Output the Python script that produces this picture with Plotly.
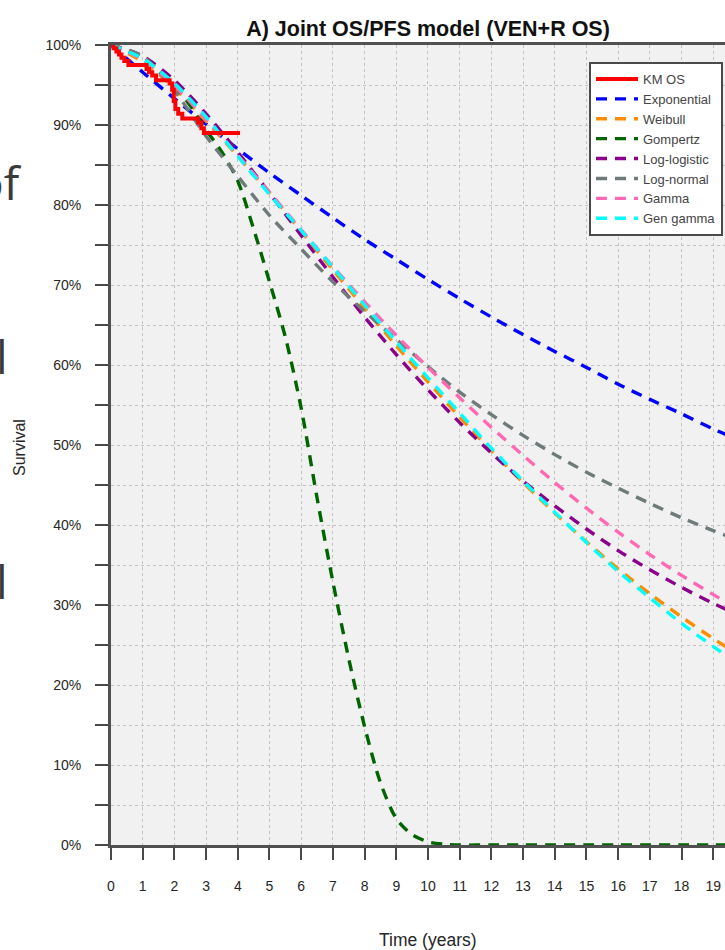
import plotly.graph_objects as go

# ---------------- data ----------------
years = list(range(0, 21))
x_tick_labels = [str(i) for i in range(0, 21)]
y_tick_vals = list(range(0, 101, 5))
y_tick_labels = [f"{v}%" if v % 10 == 0 else "" for v in y_tick_vals]

km_time = [0, 0.08, 0.17, 0.25, 0.33, 0.42, 0.55, 1.12, 1.2, 1.3, 1.42, 1.85,
           1.93, 1.98, 2.03, 2.12, 2.25, 2.75, 2.85, 2.93, 4.07]
km_surv = [100, 99.6, 99.2, 98.8, 98.4, 98.0, 97.5, 97.0, 96.6, 96.2, 95.6, 95.2,
           94.4, 93.0, 92.0, 91.4, 90.8, 90.3, 89.6, 89.0, 89.0]

exponential = [100, 96.6, 93.3, 90.1, 87.0, 84.0, 81.2, 78.4, 75.7, 73.2, 70.7,
               68.3, 66.0, 63.8, 61.7, 59.7, 57.6, 55.7, 53.9, 52.0, 50.3]
weibull = [100, 97.9, 94.6, 90.5, 86.1, 81.5, 76.7, 71.9, 67.1, 62.4, 57.9,
           53.5, 49.3, 45.3, 41.5, 37.9, 34.5, 31.4, 28.5, 25.8, 23.3]
gompertz_time = [0, 0.5, 1, 1.5, 2, 2.5, 3, 3.5, 4, 4.5, 5, 5.5, 6, 6.5, 7, 7.5,
                 8, 8.5, 9, 9.5, 10, 10.5, 11, 12, 13, 14, 15, 16, 17, 18, 19, 20]
gompertz = [100, 99.3, 98.3, 96.9, 95.0, 92.4, 89.4, 86.6, 83.0, 77.0, 70.4, 63.5,
            54.6, 43.4, 32.9, 23.3, 14.8, 7.8, 3.3, 1.3, 0.4, 0.1, 0.0, 0.0, 0.0,
            0.0, 0.0, 0.0, 0.0, 0.0, 0.0, 0.0]
loglogistic = [100, 98.6, 95.6, 91.4, 86.6, 81.5, 76.2, 71.0, 66.0, 61.3, 56.9,
               52.8, 49.0, 45.5, 42.4, 39.5, 36.8, 34.4, 32.2, 30.2, 28.4]
lognormal = [100, 98.6, 94.3, 88.6, 83.6, 78.7, 74.5, 70.4, 66.7, 63.2, 59.8,
             56.6, 53.8, 51.2, 48.8, 46.6, 44.6, 42.7, 40.9, 39.3, 37.8]
gamma = [100, 98.2, 94.9, 90.7, 86.2, 81.6, 76.9, 72.3, 67.9, 63.7, 59.7,
         55.9, 52.2, 48.7, 45.3, 42.1, 39.1, 36.3, 33.7, 31.3, 29.0]
gen_gamma = [100, 98.3, 95.2, 91.0, 86.1, 81.3, 76.8, 72.2, 67.5, 62.9, 58.4,
             54.0, 49.6, 45.5, 41.6, 37.8, 34.2, 30.9, 27.7, 24.8, 22.1]

models = [
    ("Exponential", years, exponential, "#0000ff"),
    ("Weibull", years, weibull, "#ff8c00"),
    ("Gompertz", gompertz_time, gompertz, "#006400"),
    ("Log-logistic", years, loglogistic, "#8b008b"),
    ("Log-normal", years, lognormal, "#6f7b7b"),
    ("Gamma", years, gamma, "#ff69b4"),
    ("Gen gamma", years, gen_gamma, "#00ffff"),
]

# ---------------- layout constants ----------------
W, H = 725, 950
ML, MR, MT, MB = 111, 0, 45, 105
PW, PH = W - ML - MR, H - MT - MB
FONT = "Liberation Sans, Arial, Helvetica, sans-serif"
TXT = "#262626"


def px_x(px):
    return (px - ML) / PW


def px_y(py):
    return (H - MB - py) / PH


fig = go.Figure()

for i, (name, xs, ys, col) in enumerate(models):
    fig.add_trace(go.Scatter(
        x=xs, y=ys, mode="lines", name=name, legendrank=2 + i,
        line=dict(color=col, width=3.4, dash="11px,8px", shape="spline", smoothing=0.8),
    ))

fig.add_trace(go.Scatter(
    x=km_time, y=km_surv, mode="lines", name="KM OS", legendrank=1,
    line=dict(color="#ff0000", width=4, shape="hv"),
))

fig.update_layout(
    width=W, height=H,
    margin=dict(l=ML, r=MR, t=MT, b=MB, autoexpand=False),
    paper_bgcolor="white", plot_bgcolor="#f1f1f1",
    font=dict(family=FONT, color=TXT, size=14),
    title=dict(text="<b>A) Joint OS/PFS model (VEN+R OS)</b>",
               x=428 / W, xref="container", xanchor="center",
               y=1 - 28 / H, yref="container", yanchor="middle",
               font=dict(size=21.5, color="#111111", family=FONT)),
    showlegend=True,
    legend=dict(x=px_x(589), y=px_y(62), xanchor="left", yanchor="top",
                bgcolor="white", bordercolor="#4a4a4a", borderwidth=2,
                font=dict(size=13, color="#444444", family=FONT),
                tracegroupgap=0, itemwidth=42),
    xaxis=dict(range=[0, 19.37], tickmode="array", tickvals=years, ticktext=x_tick_labels,
               ticks="outside", ticklen=12, tickwidth=2, tickcolor="#4a4a4a",
               ticklabelstandoff=14, tickfont=dict(size=14, color=TXT),
               showline=True, linewidth=3, linecolor="#505050", mirror=True,
               showgrid=True, gridcolor="#c2c2c2", gridwidth=1, griddash="dot",
               zeroline=False),
    yaxis=dict(range=[0, 100], tickmode="array", tickvals=y_tick_vals, ticktext=y_tick_labels,
               ticks="outside", ticklen=13, tickwidth=2, tickcolor="#4a4a4a",
               ticklabelstandoff=11, tickfont=dict(size=14, color=TXT),
               showline=True, linewidth=3, linecolor="#505050", mirror=False,
               showgrid=True, gridcolor="#c2c2c2", gridwidth=1, griddash="dot",
               zeroline=False),
    annotations=[
        dict(text="Time (years)", x=px_x(428), y=px_y(940), xref="paper", yref="paper",
             showarrow=False, xanchor="center", yanchor="middle",
             font=dict(size=17.5, color=TXT, family=FONT)),
        dict(text="Survival", x=px_x(20), y=px_y(448), xref="paper", yref="paper",
             showarrow=False, xanchor="center", yanchor="middle", textangle=-90,
             font=dict(size=16, color=TXT, family=FONT)),
        dict(text="of", x=px_x(24), y=px_y(182), xref="paper", yref="paper",
             showarrow=False, xanchor="right", yanchor="middle",
             font=dict(size=46, color="#3a3a3a", family="Open Sans, sans-serif")),
        dict(text="l", x=px_x(10), y=px_y(356), xref="paper", yref="paper",
             showarrow=False, xanchor="right", yanchor="middle",
             font=dict(size=46, color="#3a3a3a", family="Open Sans, sans-serif")),
        dict(text="l", x=px_x(10), y=px_y(581), xref="paper", yref="paper",
             showarrow=False, xanchor="right", yanchor="middle",
             font=dict(size=46, color="#3a3a3a", family="Open Sans, sans-serif")),
    ],
)

fig.write_html("out.html")
